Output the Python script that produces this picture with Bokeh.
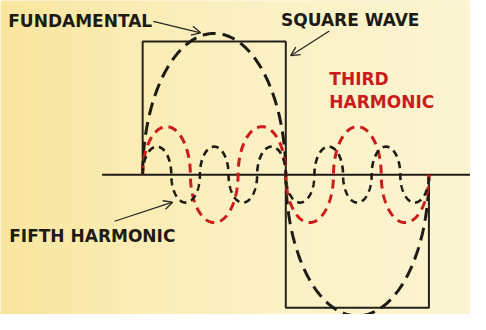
import numpy as np
from bokeh.plotting import figure
from bokeh.models import Range1d, Label, Arrow, OpenHead
from bokeh.embed import file_html
from bokeh.resources import INLINE

# ---- data ----
square_x = [0, 0, 180, 180, 360, 360]          # degrees
square_y = [0, 1, 1, -1, -1, 0]                 # square wave amplitude = 1
harmonic_orders = [1, 3, 5]
harmonic_amplitudes = [1.06, 0.36, 0.21]
harmonic_names = ["FUNDAMENTAL", "THIRD HARMONIC", "FIFTH HARMONIC"]
axis_x = [-51, 412]
axis_y = [0, 0]

# ---- layout helpers (reference pixel -> data) ----
X0, XS = 147.0, 296.0 / 360.0      # px of 0 deg, px per degree
Y0, YS = 183.0, 140.0              # px of zero line, px per unit


def dx(px):
    return (px - X0) / XS


def dy(py):
    return (Y0 - py) / YS


W, H = 470, 314
xr = Range1d(dx(0), dx(486))
yr = Range1d(dy(330), dy(0))
p = figure(width=W, height=H, output_backend="svg", toolbar_location=None,
           x_range=xr, y_range=yr,
           x_axis_location=None, y_axis_location=None, min_border=0)
p.grid.visible = False
p.outline_line_color = None
p.background_fill_color = "#FAEFC3"
p.border_fill_color = "#FAEFC3"

# paper background: soft horizontal gradient (yellower on the left)
stops_pos = np.array([0.0, 0.25, 0.55, 1.0])
stops_rgb = np.array([[249, 230, 158], [250, 236, 178], [251, 241, 197], [251, 245, 210]])
ncol = 200
pos = np.linspace(0, 1, ncol)
img = np.empty((1, ncol), dtype=np.uint32)
view = img.view(dtype=np.uint8).reshape((1, ncol, 4))
for c in range(3):
    view[0, :, c] = np.interp(pos, stops_pos, stops_rgb[:, c]).astype(np.uint8)
view[0, :, 3] = 255
p.image_rgba(image=[img], x=xr.start, y=yr.start, dw=xr.end - xr.start, dh=yr.end - yr.start)

BLACK = "#1d1b14"
RED = "#cc1b1b"

# axis line
p.line(axis_x, axis_y, line_color=BLACK, line_width=2)
# square wave
p.line(square_x, square_y, line_color="#24221a", line_width=2)

styles = {
    1: dict(line_color=BLACK, line_width=3, line_dash="13 7"),
    3: dict(line_color=RED, line_width=3, line_dash="9 6"),
    5: dict(line_color=BLACK, line_width=2.6, line_dash="7 5"),
}
t = np.linspace(0, np.pi, 181)
for n, a in zip(harmonic_orders, harmonic_amplitudes):
    w = 180.0 / n
    xs, ys = [], []
    for k in range(2 * n):
        c = (k + 0.5) * w
        sgn = 1 if k % 2 == 0 else -1
        xs.append(c - 0.5 * w * np.cos(t))
        ys.append(sgn * a * np.sin(t))
    p.line(np.concatenate(xs), np.concatenate(ys), **styles[n])

font = "DejaVu Sans"
fs = "17px"


def lab(text, px, py, color=BLACK):
    p.add_layout(Label(x=dx(px), y=dy(py), text=text, text_font=font,
                       text_font_size=fs, text_font_style="bold",
                       text_color=color, text_align="left",
                       text_baseline="middle"))


lab(harmonic_names[0], 8, 22)
lab("SQUARE WAVE", 290, 21)
lab("THIRD", 340, 83, RED)
lab("HARMONIC", 340, 107, RED)
lab(harmonic_names[2], 9, 248)


def arrow(x1, y1, x2, y2):
    p.add_layout(Arrow(x_start=dx(x1), y_start=dy(y1), x_end=dx(x2), y_end=dy(y2),
                       line_color="#2a2820", line_width=1.3,
                       end=OpenHead(size=9, line_color="#2a2820", line_width=1.3)))


arrow(158, 22, 207, 34)
arrow(340, 32, 300, 58)
arrow(118, 232, 178, 212)

open("out.html", "w").write(file_html(p, INLINE))
